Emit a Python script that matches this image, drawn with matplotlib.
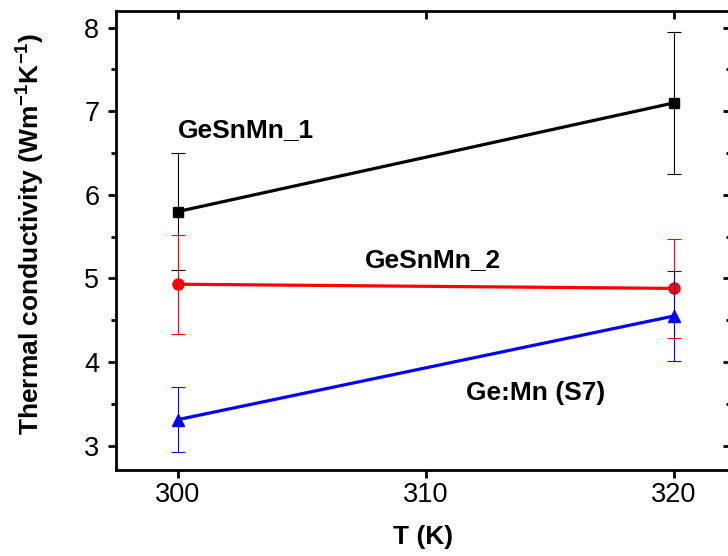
import numpy as np
import matplotlib
matplotlib.use("Agg")
import matplotlib.pyplot as plt
from matplotlib.ticker import MultipleLocator

plt.rcParams['font.family'] = ['Liberation Sans', 'DejaVu Sans']
plt.rcParams['mathtext.fontset'] = 'custom'
plt.rcParams['mathtext.rm'] = 'Liberation Sans'
plt.rcParams['mathtext.bf'] = 'Liberation Sans:bold'

# measured thermal conductivity vs temperature
temps = [300, 320]
names = ['GeSnMn_1', 'GeSnMn_2', 'Ge:Mn (S7)']
k_gesnmn1 = [5.80, 7.10]
err_gesnmn1 = [0.70, 0.85]
k_gesnmn2 = [4.93, 4.88]
err_gesnmn2 = [0.59, 0.59]
k_gemn = [3.31, 4.55]
err_gemn = [0.39, 0.54]

colors = ['black', 'red', 'blue']
markers = ['s', 'o', '^']
msizes = [7.5, 8.0, 9.0]

fig = plt.figure(figsize=(7.28, 5.56), dpi=100)
ax = fig.add_axes([116/728, 86/556, (731-116)/728, (470-10.7)/556])

series = [(k_gesnmn1, err_gesnmn1), (k_gesnmn2, err_gesnmn2), (k_gemn, err_gemn)]
for i, (vals, errs) in enumerate(series):
    ax.errorbar(temps, vals, yerr=errs, color=colors[i], marker=markers[i],
                ms=msizes[i], lw=2.3, elinewidth=0.8, capsize=5, capthick=0.8,
                zorder=3 + i)

# series labels
ax.text(300.0, 6.69, names[0], fontsize=19, fontweight='bold', va='baseline')
ax.text(307.55, 5.13, names[1], fontsize=19, fontweight='bold', va='baseline')
ax.text(311.6, 3.545, names[2], fontsize=19, fontweight='bold', va='baseline')

ax.set_xlim(297.5, 322.3)
ax.set_ylim(2.707, 8.203)
ax.set_xticks([300, 310, 320])
ax.set_yticks([3, 4, 5, 6, 7, 8])
ax.yaxis.set_minor_locator(MultipleLocator(0.5))

for s in ax.spines.values():
    s.set_linewidth(2.0)

ax.tick_params(axis='both', which='major', direction='out', length=6, width=2,
               labelsize=19.5, pad=6)
ax.tick_params(axis='y', which='minor', direction='out', length=3.5, width=2)
ax.tick_params(axis='x', which='both', top=True)
ax.tick_params(axis='y', which='both', right=True)
ax.xaxis.set_tick_params(which='both', direction='inout')

ax.set_xlabel('T (K)', fontsize=19, fontweight='bold', labelpad=12)
ax.set_ylabel(r'Thermal conductivity (Wm$^{\mathbf{-1}}$K$^{\mathbf{-1}}$)',
              fontsize=19, fontweight='bold')
ax.yaxis.set_label_coords(-0.114, 0.515)

# top and right ticks point inward, bottom and left outward
for t in ax.xaxis.get_major_ticks():
    t.tick1line.set_marker(3)
    t.tick2line.set_marker(3)
for t in ax.yaxis.get_major_ticks() + ax.yaxis.get_minor_ticks():
    t.tick2line.set_marker(0)

fig.savefig('out.png', dpi=100)
